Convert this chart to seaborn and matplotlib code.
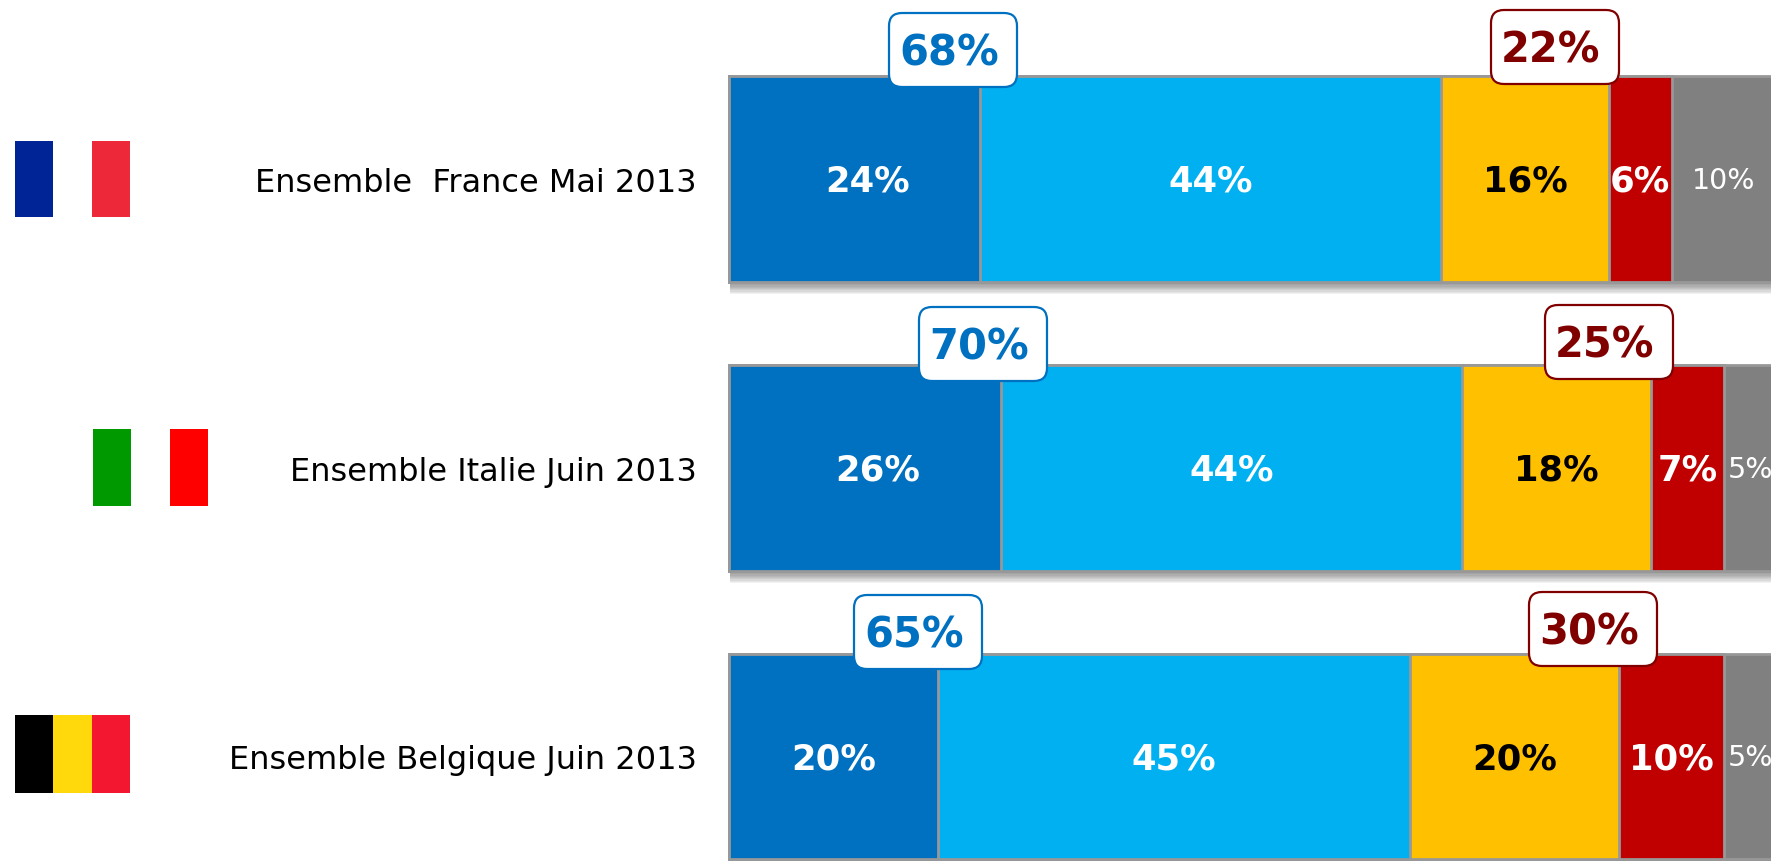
import matplotlib
matplotlib.use("Agg")
import matplotlib.pyplot as plt
import matplotlib.patheffects as pe
from matplotlib.patches import FancyBboxPatch, Rectangle
from matplotlib.transforms import Affine2D
import pandas as pd
import seaborn as sns

# ---- data ----
categories = ["Ensemble  France Mai 2013", "Ensemble Italie Juin 2013", "Ensemble Belgique Juin 2013"]
series_names = ["Tout à fait", "Plutôt", "Plutôt pas", "Pas du tout", "NSP"]
series_1 = [24, 26, 20]
series_2 = [44, 44, 45]
series_3 = [16, 18, 20]
series_4 = [6, 7, 10]
series_5 = [10, 5, 5]
total_positive = [68, 70, 65]
total_negative = [22, 25, 30]

# ---- styles ----
colors = ["#0070C0", "#00B0F0", "#FFC000", "#C00000", "#808080"]
text_colors = ["white", "white", "black", "white", "white"]
text_weights = ["bold", "bold", "bold", "bold", "normal"]
text_sizes = [25.5, 25.5, 25.5, 25.5, 20.5]
edge_gray = "#989898"
flags = [["#002395", "#FFFFFF", "#ED2939"],
         ["#009900", "#FFFFFF", "#FF0000"],
         ["#000000", "#FFD90C", "#F31830"]]
# layout, in pixels of the 1771x861 canvas
flag_boxes = [(14.7, 141, 115.3, 76), (93, 429, 115, 77), (14.7, 715, 115.3, 78)]
pos_boxes = [(889, 13), (919, 307), (854, 595)]
neg_boxes = [(1491, 10), (1545, 305), (1529, 592)]
box_w, box_h = 128, 74
first_label_shift = [1.3, 1.25, 0.0]

W, H = 1771, 861
x0, y0 = 728.5, 178.5
sns.set_theme(style="white")
plt.rcParams["font.family"] = ["DejaVu Sans"]

fig = plt.figure(figsize=(W / 100, H / 100), dpi=100)
ax = fig.add_axes([0, 0, 1, 1])

rows = []
all_series = [series_1, series_2, series_3, series_4, series_5]
for i, cat in enumerate(categories):
    cum = 0
    for name, s in zip(series_names, all_series):
        cum += s[i]
        rows.append({"cat": cat, "serie": name, "cum": cum})
df = pd.DataFrame(rows)

sns.barplot(data=df, x="cum", y="cat", hue="serie", hue_order=series_names[::-1],
            palette=dict(zip(series_names, colors)), dodge=False, orient="h",
            width=206 / 289, saturation=1, edgecolor=edge_gray, linewidth=2.0,
            legend=False, ax=ax, order=categories)

# soft shadow below the full-width bars (first hue drawn)
shadow = [pe.SimplePatchShadow(offset=(1.2, -k * 0.9), shadow_rgbFace="black", alpha=0.05)
          for k in range(10, 0, -1)] + [pe.Normal()]
for bar in ax.containers[0]:
    bar.set_path_effects(shadow)

# 0 % position in pixels, one percent is 10.48 px
ppu = 10.48
ax.set_xlim(-x0 / ppu, (W - x0) / ppu)
ax.set_ylim((H - y0) / 289, -y0 / 289)
ax.axis("off")

# pixel coordinates for decorations
px = Affine2D().scale(1, -1).translate(0, H)

# inner labels
for i in range(len(categories)):
    left = 0
    for j, s in enumerate(all_series):
        xc = left + s[i] / 2
        if j == 0:
            xc += first_label_shift[i]
        ax.text(xc, i - 1 / 289, f"{s[i]}%", ha="center", va="center_baseline",
                color=text_colors[j], fontweight=text_weights[j], fontsize=text_sizes[j])
        left += s[i]

# category labels
for i, cat in enumerate(categories):
    ax.text(-31.5 / ppu, i + 1 / 289, cat, ha="right", va="center_baseline", fontsize=23, color="black")

# flags
for (x, y, w, h), cols in zip(flag_boxes, flags):
    for k, c in enumerate(cols):
        ax.add_patch(Rectangle((x + k * w / 3, y), w / 3, h, facecolor=c, edgecolor="none",
                               transform=px, zorder=3))

# call-outs
def callout(x, y, value, color):
    ax.add_patch(FancyBboxPatch((x + 13, y + 13), box_w - 26, box_h - 26,
                                boxstyle="round,pad=13,rounding_size=13", transform=px,
                                facecolor="white", edgecolor=color, linewidth=1.6,
                                mutation_aspect=1, zorder=5))
    ax.text(x + box_w / 2 - 4, y + box_h / 2 - 1, f"{value}%", transform=px, ha="center",
            va="center_baseline", color=color, fontweight="bold", fontsize=30, zorder=6)

for (x, y), v in zip(pos_boxes, total_positive):
    callout(x, y, v, "#0070C0")
for (x, y), v in zip(neg_boxes, total_negative):
    callout(x, y, v, "#800000")

fig.savefig("out.png", dpi=100, facecolor="white")
